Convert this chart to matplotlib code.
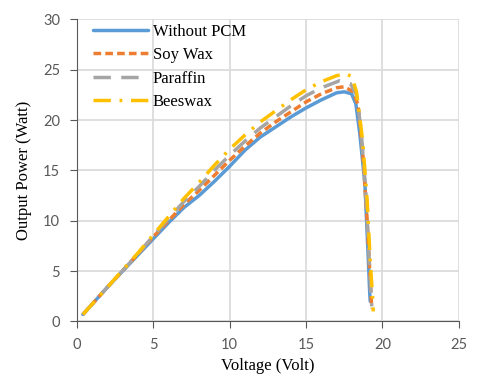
import numpy as np
import matplotlib
matplotlib.use("Agg")
import matplotlib.pyplot as plt

plt.rcParams['font.family'] = ['Liberation Serif', 'DejaVu Serif']

# Voltage (V) / power (W)
v_nopcm = [0.4, 2, 4, 5, 6, 7, 8, 9, 10, 11, 12, 13, 14, 15, 16, 17, 17.5, 17.98, 18.26, 18.52, 18.85, 19.05, 19.17, 19.2]
p_nopcm = [0.7, 3.4, 6.6, 8.2, 9.8, 11.3, 12.5, 13.9, 15.4, 17.0, 18.3, 19.3, 20.3, 21.2, 22.0, 22.7, 22.8, 22.6, 21.6, 18.6, 13.7, 7.0, 2.7, 2.0]

v_soy = [0.4, 2, 4, 5, 6, 7, 8, 9, 10, 11, 12, 13, 14, 15, 16, 17, 17.5, 18.1, 18.4, 18.7, 19.0, 19.2, 19.3]
p_soy = [0.7, 3.4, 6.7, 8.4, 10.0, 11.6, 13.0, 14.5, 16.0, 17.4, 18.7, 19.8, 20.8, 21.8, 22.6, 23.2, 23.3, 22.8, 21.5, 17.0, 10.0, 4.0, 1.3]

v_paraffin = [0.4, 2, 4, 5, 6, 7, 8, 9, 10, 11, 12, 13, 14, 15, 16, 17.2, 17.9, 18.3, 18.6, 18.9, 19.1, 19.25, 19.3]
p_paraffin = [0.7, 3.4, 6.7, 8.5, 10.2, 11.9, 13.4, 15.0, 16.5, 17.9, 19.2, 20.3, 21.4, 22.4, 23.2, 23.9, 23.6, 22.5, 19.0, 13.0, 7.0, 3.0, 1.5]

v_beeswax = [0.4, 2, 4, 5, 6, 7, 8, 9, 10, 11, 12, 13, 14, 15, 16, 17, 17.6, 18.0, 18.3, 18.7, 19.0, 19.2, 19.35, 19.4]
p_beeswax = [0.7, 3.4, 6.8, 8.6, 10.4, 12.2, 13.8, 15.5, 17.1, 18.5, 19.8, 20.9, 22.0, 23.0, 23.8, 24.4, 24.6, 24.3, 22.8, 18.0, 12.0, 6.0, 2.5, 1.0]

labels = ["Without PCM", "Soy Wax", "Paraffin", "Beeswax"]

fig = plt.figure(figsize=(4.8, 3.84), dpi=100)
ax = fig.add_axes([0.160, 0.1628, 0.796, 0.787])

common = dict(lw=2.5, solid_joinstyle='round', dash_joinstyle='round')
ax.plot(v_nopcm, p_nopcm, color='#5B9BD5', label=labels[0], solid_capstyle='round', **common)
ax.plot(v_soy, p_soy, color='#ED7D31', dashes=(2.2, 1.2), label=labels[1], **common)
ax.plot(v_paraffin, p_paraffin, color='#A5A5A5', dashes=(5, 3), label=labels[2], **common)
ax.plot(v_beeswax, p_beeswax, color='#FFC000', dashes=(5, 2.5, 0.8, 2.5), label=labels[3], **common)

ax.set_xlim(0, 25)
ax.set_ylim(0, 30)
ax.set_xticks(np.arange(0, 26, 5))
ax.set_yticks(np.arange(0, 31, 5))
ax.grid(True, color='#D9D9D9', lw=1.2)
ax.set_axisbelow(True)
for s in ['top', 'right']:
    ax.spines[s].set_visible(False)
for s in ['left', 'bottom']:
    ax.spines[s].set_color('#595959')
ax.tick_params(direction='out', length=5, color='#595959', labelsize=10.5,
               labelcolor='#595959', pad=7)
for lab in ax.get_xticklabels() + ax.get_yticklabels():
    lab.set_family(['Lato', 'DejaVu Sans'])

ax.set_xlabel("Voltage (Volt)", fontsize=12, labelpad=4)
ax.set_ylabel("Output Power (Watt)", fontsize=12, labelpad=8)

ax.legend(loc='upper left', bbox_to_anchor=(0.024, 1.007), frameon=False, fontsize=12,
          handlelength=3.3, borderaxespad=0, borderpad=0.4, labelspacing=0.45,
          handletextpad=0.3)

fig.savefig("out.png", dpi=100)
